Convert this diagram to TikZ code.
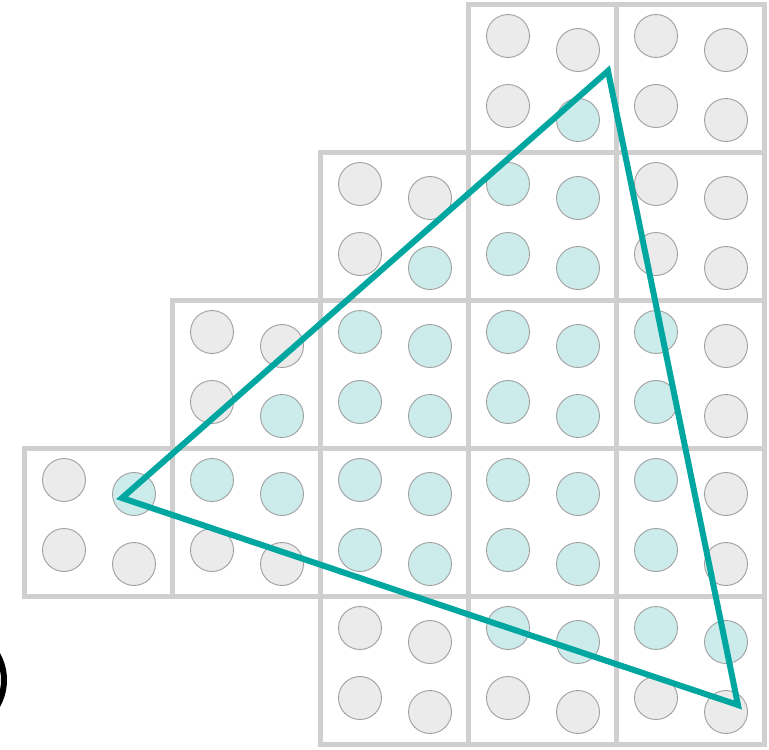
\documentclass[tikz,border=0pt]{standalone}
\definecolor{sqgray}{HTML}{CFCFCF}
\definecolor{cgray}{HTML}{EBEBEB}
\definecolor{cteal}{HTML}{CCEBEB}
\definecolor{cstroke}{HTML}{A0A0A0}
\definecolor{tri}{HTML}{00A6A0}
\tikzset{
  cell/.style={draw=sqgray, line width=5pt, fill=white},
  dotg/.style={draw=cstroke, line width=0.9pt, fill=cgray},
  dott/.style={draw=cstroke, line width=0.9pt, fill=cteal},
  triline/.style={draw=tri, line width=6pt, line join=miter},
}
\begin{document}
\begin{tikzpicture}[x=1pt,y=-1pt]
\useasboundingbox (0,0) rectangle (769,750);
% black ring at left edge
\draw[line width=6pt, black] (-48,680) circle (52);
% squares: list of col/row
\foreach \c/\r in {3/0,4/0,2/1,3/1,4/1,1/2,2/2,3/2,4/2,0/3,1/3,2/3,3/3,4/3,2/4,3/4,4/4}{
  \path[cell] ({24+148*\c},{4+148*\r}) rectangle ({172+148*\c},{152+148*\r});
}
% circles: col/row/pattern (1 teal, 0 gray) for positions TL, TR, BL, BR
\foreach \c/\r/\a/\b/\d/\e in {
  3/0/0/0/0/1, 4/0/0/0/0/0,
  2/1/0/0/0/1, 3/1/1/1/1/1, 4/1/0/0/0/0,
  1/2/0/0/0/1, 2/2/1/1/1/1, 3/2/1/1/1/1, 4/2/1/0/1/0,
  0/3/0/1/0/0, 1/3/1/1/0/0, 2/3/1/1/1/1, 3/3/1/1/1/1, 4/3/1/0/1/0,
  2/4/0/0/0/0, 3/4/1/1/0/0, 4/4/1/1/0/0}{
  \pgfmathsetmacro{\X}{24+148*\c}
  \pgfmathsetmacro{\Y}{4+148*\r}
  \ifnum\a=1 \def\sa{dott}\else\def\sa{dotg}\fi
  \ifnum\b=1 \def\sb{dott}\else\def\sb{dotg}\fi
  \ifnum\d=1 \def\sd{dott}\else\def\sd{dotg}\fi
  \ifnum\e=1 \def\se{dott}\else\def\se{dotg}\fi
  \path[style=\sa] ({\X+40},{\Y+32}) circle (21.5);
  \path[style=\sb] ({\X+110},{\Y+46}) circle (21.5);
  \path[style=\sd] ({\X+40},{\Y+102}) circle (21.5);
  \path[style=\se] ({\X+110},{\Y+116}) circle (21.5);
}
% triangle
\coordinate (A) at (608,71);
\coordinate (B) at (122,498);
\coordinate (C) at (738,705);
\draw[triline] (A) -- (B) -- (C) -- cycle;
\end{tikzpicture}
\end{document}
